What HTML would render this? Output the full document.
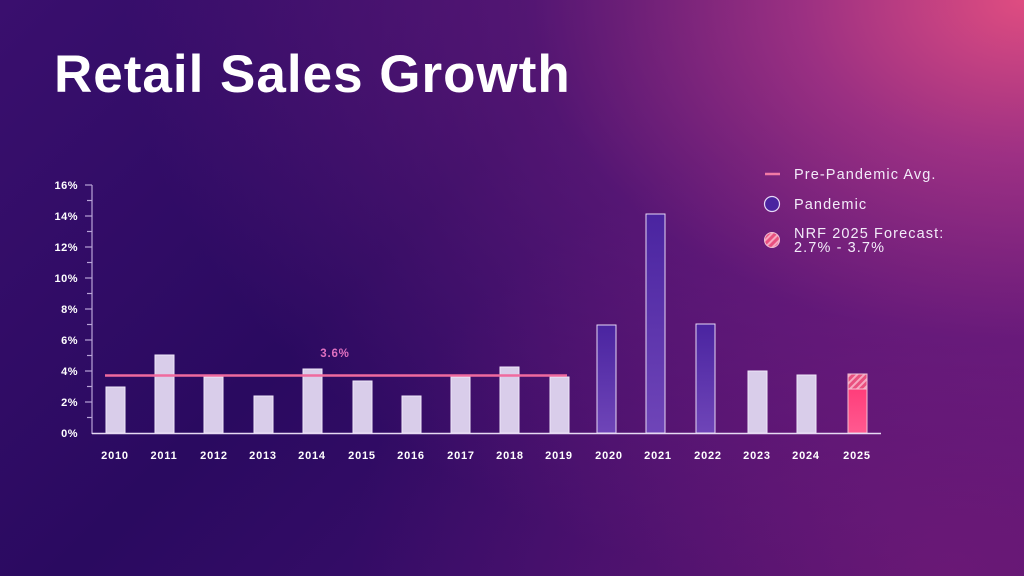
<!DOCTYPE html>
<html><head><style>
html,body{margin:0;padding:0;width:1024px;height:576px;overflow:hidden;}
body{background:
radial-gradient(ellipse 900px 620px at 1024px 0px, rgba(232,80,130,0.95) 0%, rgba(190,60,140,0.75) 25%, rgba(130,35,135,0.45) 55%, rgba(60,15,110,0) 100%),
radial-gradient(ellipse 600px 450px at 950px 576px, rgba(130,30,120,0.55) 0%, rgba(60,15,110,0) 100%),
linear-gradient(135deg,#3a0f6e 0%,#2a0a60 40%,#3a0d6a 70%,#4a1070 100%);
font-family:"Liberation Sans",sans-serif;}
h1{position:absolute;left:54px;top:44px;margin:0;color:#fff;font-size:53px;font-weight:bold;letter-spacing:1px;}
</style></head><body>
<h1>Retail Sales Growth</h1>
<svg width="1024" height="576" style="position:absolute;left:0;top:0" font-family="Liberation Sans, sans-serif">
<defs>
<pattern id="h" width="5" height="5" patternUnits="userSpaceOnUse" patternTransform="rotate(45)">
<rect width="5" height="5" fill="#e9507f"/><rect width="2" height="5" fill="#f7a6c0"/></pattern>
<linearGradient id="pg" x1="0" y1="0" x2="0" y2="1"><stop offset="0" stop-color="#4a24a0"/><stop offset="1" stop-color="#6f45b8"/></linearGradient>
<linearGradient id="fg" x1="0" y1="0" x2="0" y2="1"><stop offset="0" stop-color="#ff3d7a"/><stop offset="1" stop-color="#ff5a90"/></linearGradient>
</defs>
<g stroke="#b9a4d8" stroke-width="1.2">
<line x1="92" y1="185" x2="92" y2="434"/>
<line x1="85" y1="185" x2="92" y2="185"/><line x1="85" y1="216" x2="92" y2="216"/><line x1="85" y1="247" x2="92" y2="247"/><line x1="85" y1="278" x2="92" y2="278"/><line x1="85" y1="309" x2="92" y2="309"/><line x1="85" y1="340" x2="92" y2="340"/><line x1="85" y1="371" x2="92" y2="371"/><line x1="85" y1="402" x2="92" y2="402"/>
<line x1="87" y1="200.5" x2="92" y2="200.5"/><line x1="87" y1="231.5" x2="92" y2="231.5"/><line x1="87" y1="262.5" x2="92" y2="262.5"/><line x1="87" y1="293.5" x2="92" y2="293.5"/><line x1="87" y1="324.5" x2="92" y2="324.5"/><line x1="87" y1="355.5" x2="92" y2="355.5"/><line x1="87" y1="386.5" x2="92" y2="386.5"/><line x1="87" y1="417.5" x2="92" y2="417.5"/>
</g>
<g fill="#fff" font-size="11" font-weight="bold" text-anchor="end" letter-spacing="0.5">
<text x="78" y="189">16%</text><text x="78" y="220">14%</text><text x="78" y="251">12%</text><text x="78" y="282">10%</text><text x="78" y="313">8%</text><text x="78" y="344">6%</text><text x="78" y="375">4%</text><text x="78" y="406">2%</text><text x="78" y="437">0%</text>
</g>
<g fill="#d9cdea" stroke="#f0e8fa" stroke-width="1">
<rect x="106" y="387" width="19" height="46"/>
<rect x="155" y="355" width="19" height="78"/>
<rect x="204" y="377" width="19" height="56"/>
<rect x="254" y="396" width="19" height="37"/>
<rect x="303" y="369" width="19" height="64"/>
<rect x="353" y="381" width="19" height="52"/>
<rect x="402" y="396" width="19" height="37"/>
<rect x="451" y="377" width="19" height="56"/>
<rect x="500" y="367" width="19" height="66"/>
<rect x="550" y="377" width="19" height="56"/>
<rect x="748" y="371" width="19" height="62"/>
<rect x="797" y="375" width="19" height="58"/>
</g>
<g fill="url(#pg)" stroke="#e6d8f6" stroke-width="1">
<rect x="597" y="325" width="19" height="108"/>
<rect x="646" y="214" width="19" height="219"/>
<rect x="696" y="324" width="19" height="109"/>
</g>
<rect x="848" y="374" width="19" height="15" fill="url(#h)" stroke="#f3c0d3" stroke-width="1"/>
<rect x="848" y="389" width="19" height="44" fill="url(#fg)" stroke="#f3c0d3" stroke-width="1"/>
<line x1="92" y1="433.5" x2="881" y2="433.5" stroke="#e6daf3" stroke-width="1.5"/>
<line x1="105" y1="375.5" x2="567" y2="375.5" stroke="#f06a9e" stroke-width="2.5"/>
<text x="335" y="357" fill="#e070c0" font-size="11.5" font-weight="bold" text-anchor="middle" letter-spacing="0.8">3.6%</text>
<g fill="#fff" font-size="11" font-weight="bold" text-anchor="middle" letter-spacing="0.8">
<text x="115" y="459">2010</text><text x="164" y="459">2011</text><text x="214" y="459">2012</text><text x="263" y="459">2013</text><text x="312" y="459">2014</text><text x="362" y="459">2015</text><text x="411" y="459">2016</text><text x="461" y="459">2017</text><text x="510" y="459">2018</text><text x="559" y="459">2019</text><text x="609" y="459">2020</text><text x="658" y="459">2021</text><text x="708" y="459">2022</text><text x="757" y="459">2023</text><text x="806" y="459">2024</text><text x="857" y="459">2025</text>
</g>
<line x1="765" y1="174" x2="780" y2="174" stroke="#f27aa5" stroke-width="2.5"/>
<circle cx="772" cy="204" r="7.5" fill="#4a24a0" stroke="#e6d8f6" stroke-width="1.2"/>
<circle cx="772" cy="240" r="7.5" fill="url(#h)" stroke="#f3c0d3" stroke-width="1"/>
<g fill="#f3ecfa" font-size="14.5" letter-spacing="1.1">
<text x="794" y="179">Pre-Pandemic Avg.</text>
<text x="794" y="209">Pandemic</text>
<text x="794" y="238">NRF 2025 Forecast:</text>
<text x="794" y="252">2.7% - 3.7%</text>
</g>
</svg>
</body></html>
